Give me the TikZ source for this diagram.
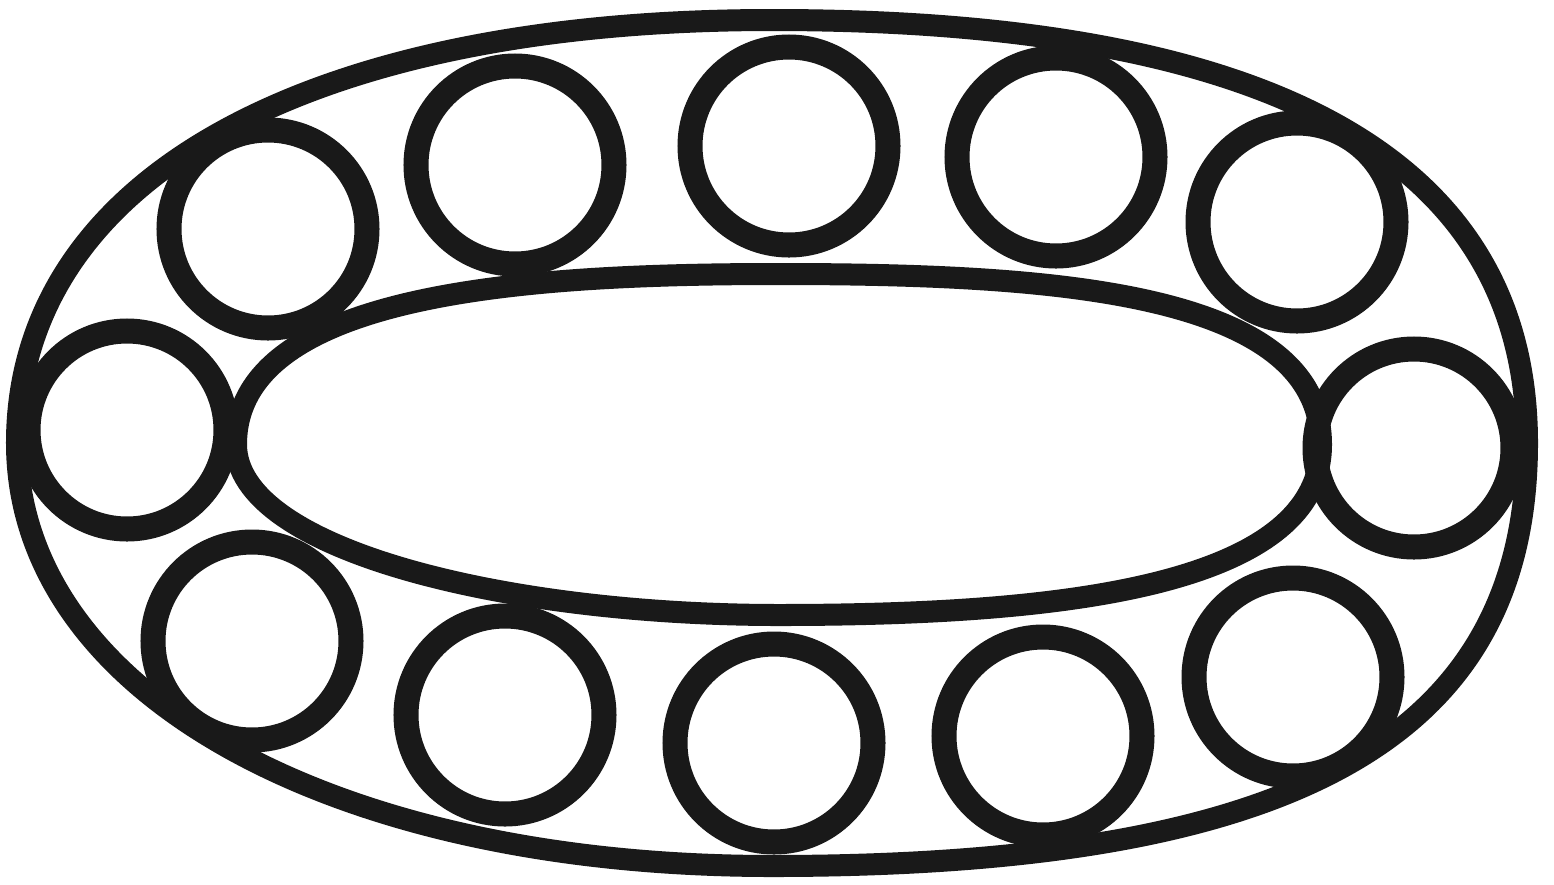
\documentclass[tikz,border=0pt]{standalone}
\begin{document}
\begin{tikzpicture}[x=0.01cm,y=-0.01cm,
  ring/.style={draw=black!90,line width=0.25cm},
  band/.style={draw=black!90,line width=0.22cm}]
\useasboundingbox (0,0) rectangle (1554,884);
% outer band (race)
\coordinate (oL) at (17,443);
\coordinate (oT) at (772,20);
\coordinate (oR) at (1527,443);
\coordinate (oB) at (772,866);
\draw[band] (oL) .. controls (17,181) and (304,20) .. (oT)
  .. controls (1276,20) and (1527,161) .. (oR)
  .. controls (1527,737) and (1298,866) .. (oB)
  .. controls (329,866) and (17,691) .. (oL) -- cycle;
% inner band (race)
\coordinate (iL) at (236,444.5);
\coordinate (iT) at (778.5,274);
\coordinate (iR) at (1321,444.5);
\coordinate (iB) at (778.5,615);
\draw[band] (iL) .. controls (236,291) and (534,274) .. (iT)
  .. controls (1050,274) and (1321,291) .. (iR)
  .. controls (1321,589) and (1050,615) .. (iB)
  .. controls (507,615) and (236,550) .. (iL) -- cycle;
% balls
\foreach \n/\cx/\cy in {c1/268/229, c2/515/165, c3/789/146, c4/1056/157, c5/1297/222,
  c6/127/430, c7/1414/448,
  c8/252/641, c9/505/715, c10/774/743, c11/1043/736, c12/1293/677}
  \draw[ring] (\cx,\cy) circle [radius=99];
\end{tikzpicture}
\end{document}
